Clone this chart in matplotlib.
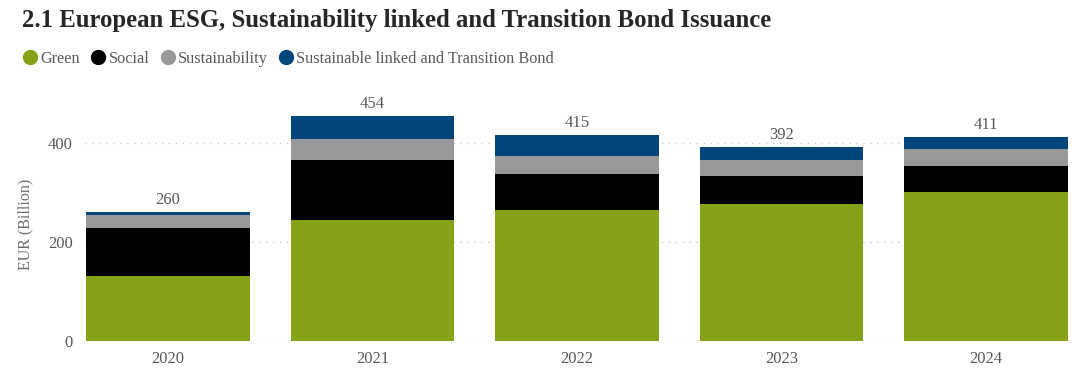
import numpy as np
import matplotlib.pyplot as plt
from matplotlib.lines import Line2D

# Données (EUR milliards)
years = ["2020", "2021", "2022", "2023", "2024"]
green = [131, 244, 264, 277, 300]
social = [97, 121, 72, 55, 54]
sustainability = [26, 42, 38, 34, 34]
slb_transition = [6, 47, 41, 26, 23]
totals = [260, 454, 415, 392, 411]

series_names = ["Green", "Social", "Sustainability", "Sustainable linked and Transition Bond"]
colors = ["#86A218", "#000000", "#999999", "#00467A"]

plt.rcParams['font.family'] = ['Liberation Serif', 'DejaVu Serif']

fig = plt.figure(figsize=(10.72, 3.73), dpi=100)
ax = fig.add_axes([85/1072, 1 - 341/373, (1069 - 85)/1072, (341 - 108)/373])

x = np.arange(len(years))
bottom = np.zeros(len(years))
for vals, col in zip([green, social, sustainability, slb_transition], colors):
    ax.bar(x, vals, width=0.8, bottom=bottom, color=col, zorder=3)
    bottom += np.array(vals)

for xi, tot, top in zip(x, totals, bottom):
    ax.text(xi, top + 8, str(tot), ha="center", va="bottom", fontsize=12,
            color="#595959", clip_on=False)

ax.set_xlim(-0.405, 4.405)
ax.set_ylim(0, 470)
ax.set_yticks([0, 200, 400])
ax.set_xticks(x)
ax.set_xticklabels(years)
ax.tick_params(axis="both", length=0, labelsize=12, labelcolor="#595959")
ax.tick_params(axis="y", pad=9)
ax.tick_params(axis="x", pad=7)
ax.grid(axis="y", linestyle=(0, (1, 4)), color="#C8C8C8", linewidth=1, zorder=0)
for s in ax.spines.values():
    s.set_visible(False)
ax.set_ylabel("EUR (Billion)", fontsize=11.5, color="#6E6E6E", labelpad=10)

fig.text(22/1072, 1 - 20/373, "2.1 European ESG, Sustainability linked and Transition Bond Issuance",
         fontsize=17.8, fontweight="bold", color="#262626", va="center", ha="left")

handles = [Line2D([], [], marker="o", linestyle="", markersize=10, color=c) for c in colors]
fig.legend(handles, series_names, loc="center left", bbox_to_anchor=(14/1072, 1 - 59/373),
           ncol=4, frameon=False, fontsize=11.7, handletextpad=0.05, columnspacing=0.5,
           borderaxespad=0, handlelength=1.2, labelcolor="#595959")

fig.savefig("out.png", dpi=100)
